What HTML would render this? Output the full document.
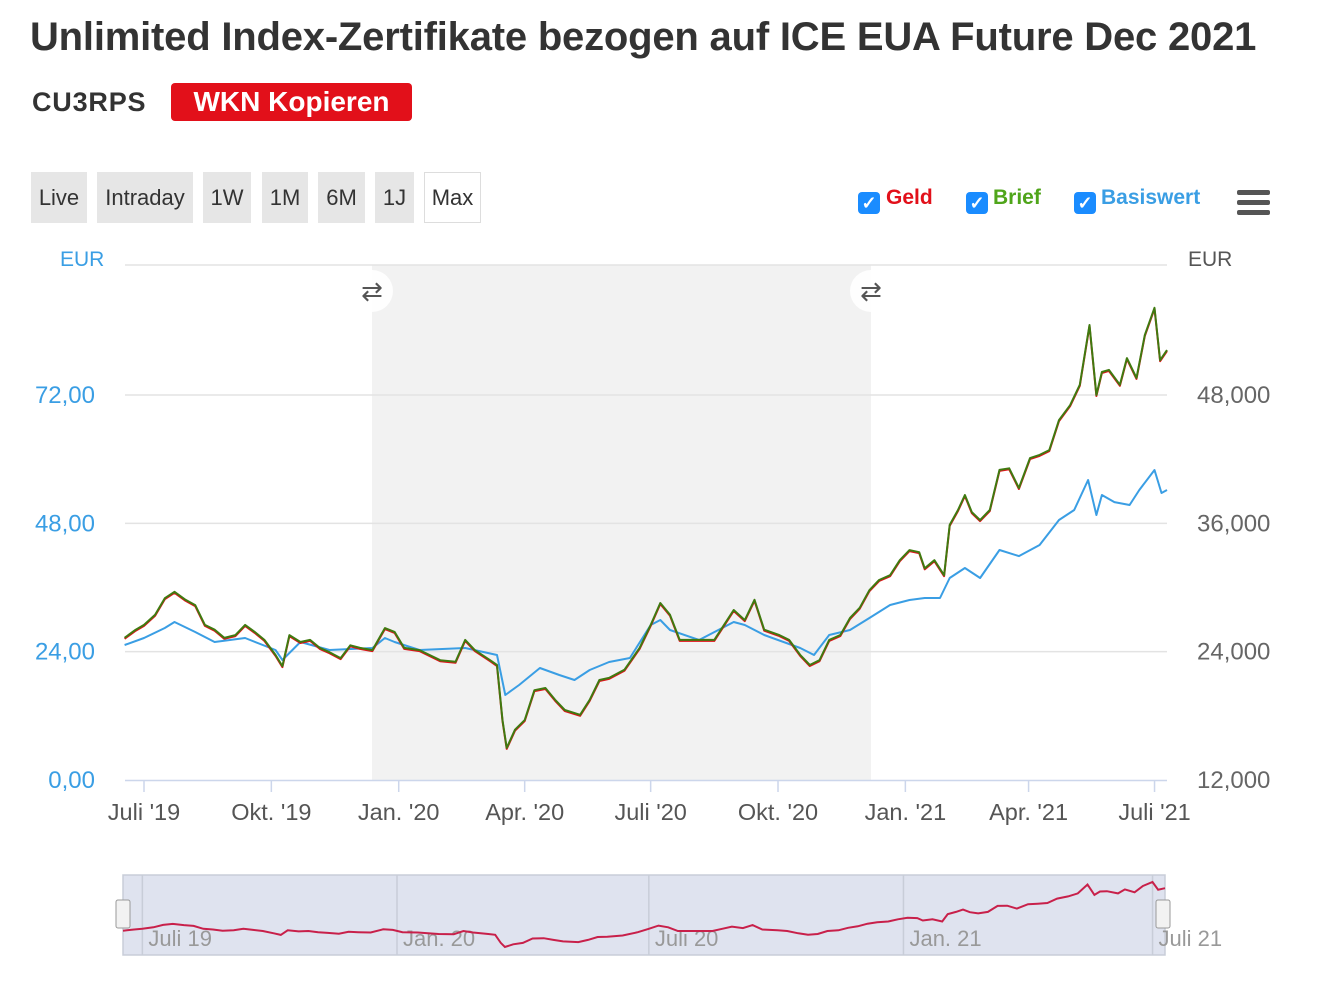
<!DOCTYPE html>
<html><head><meta charset="utf-8"><style>
body{margin:0;width:1336px;height:1002px;background:#fff;font-family:"Liberation Sans",sans-serif;overflow:hidden;position:relative}
.abs{position:absolute}
.btn{position:absolute;top:172px;height:51px;background:#e6e6e6;font-size:22px;color:#333;line-height:51px;text-align:center}
.cb{position:absolute;top:192px;width:22px;height:22px;background:#1a8cff;border-radius:4px;color:#fff;font-size:18px;line-height:22px;text-align:center;font-weight:bold}
.lg{position:absolute;top:186px;font-size:21px;font-weight:bold}
</style></head><body>
<div class="abs" style="left:30px;top:15px;font-size:40px;font-weight:bold;color:#333;letter-spacing:-0.2px">Unlimited Index-Zertifikate bezogen auf ICE EUA Future Dec 2021</div>
<div class="abs" style="left:32px;top:87px;font-size:27px;font-weight:bold;color:#333;letter-spacing:0.8px">CU3RPS</div>
<div class="abs" style="left:171px;top:83px;width:241px;height:38px;background:#e2101a;border-radius:4px;color:#fff;font-size:28px;font-weight:bold;text-align:center;line-height:38px">WKN Kopieren</div>
<div class="btn" style="left:31px;width:56px">Live</div>
<div class="btn" style="left:97px;width:96px">Intraday</div>
<div class="btn" style="left:203px;width:48px">1W</div>
<div class="btn" style="left:262px;width:46px">1M</div>
<div class="btn" style="left:318px;width:47px">6M</div>
<div class="btn" style="left:375px;width:39px">1J</div>
<div class="btn" style="left:424px;width:55px;height:49px;background:#fff;border:1px solid #ddd;line-height:49px">Max</div>
<div class="cb" style="left:858px">✓</div>
<div class="lg" style="left:886px;color:#e2101a">Geld</div>
<div class="cb" style="left:966px">✓</div>
<div class="lg" style="left:993px;color:#4fa51a">Brief</div>
<div class="cb" style="left:1074px">✓</div>
<div class="lg" style="left:1101px;color:#3a9ee4">Basiswert</div>
<div class="abs" style="left:1237px;top:190px;width:33px;height:26px">
<div style="height:5px;background:#555;border-radius:2px;margin-bottom:5px"></div><div style="height:5px;background:#555;border-radius:2px;margin-bottom:5px"></div><div style="height:5px;background:#555;border-radius:2px"></div></div>
<svg id="chart" class="abs" style="left:0;top:0" width="1336" height="1002"></svg>
<script>
const gDays=[-14,-6,0,8,15,22,30,37,44,51,58,66,73,80,87,95,100,105,113,120,127,134,142,149,156,165,174,181,188,199,214,225,232,239,250,255,259,262,268,275,282,290,297,304,315,322,329,336,347,358,366,373,380,387,394,401,412,419,426,434,441,448,459,466,474,481,488,495,503,510,517,524,531,539,546,553,560,564,571,578,582,588,593,598,604,611,618,625,632,640,647,654,661,669,676,683,688,692,697,705,710,717,723,730,734,739];
const gVals=[26.6,28.1,29.0,30.9,34.0,35.2,33.7,32.7,29.0,28.1,26.6,27.1,29.0,27.7,26.2,23.4,21.3,27.1,25.8,26.2,24.7,23.9,22.8,25.2,24.7,24.3,28.4,27.7,24.7,24.3,22.4,22.1,26.2,24.3,22.4,21.5,11.2,6.0,9.4,11.2,16.8,17.2,15.0,13.1,12.2,15.0,18.7,19.1,20.6,24.7,29.0,33.1,30.9,26.2,26.2,26.2,26.2,29.0,31.8,29.9,33.7,28.1,27.1,26.2,23.4,21.5,22.4,26.2,27.1,30.3,32.2,35.5,37.4,38.3,41.1,43.0,42.6,39.6,41.1,38.3,47.7,50.5,53.3,50.1,48.6,50.5,58.0,58.3,54.6,60.2,60.8,61.7,67.3,70.1,73.9,85.1,72.0,76.3,76.7,73.9,78.9,75.2,83.2,88.3,78.5,80.4];
const bDays=[-14,0,15,22,37,51,73,95,100,113,134,165,174,181,199,232,255,261,271,286,300,311,322,336,351,366,373,380,401,426,434,448,474,484,495,510,524,539,553,564,575,582,593,604,618,632,647,661,672,682,688,692,701,712,719,730,735,739];
const bVals=[24620,25280,26210,26770,25840,24900,25280,24160,23220,24900,24160,24340,25280,24900,24160,24340,23690,19950,20880,22470,21820,21350,22290,23030,23410,26490,26960,26030,25090,26770,26490,25560,24340,23690,25560,26030,27150,28360,28830,29020,29020,30890,31820,30890,33510,32940,33970,36310,37250,40050,36780,38650,37990,37710,39120,40990,38840,39120];
const leftTicks=["0,00","24,00","48,00","72,00"];
const leftTickVals=[0,24,48,72];
const rightTicks=["12,000","24,000","36,000","48,000"];
const rightTickVals=[12000,24000,36000,48000];
const xLabels=["Juli '19","Okt. '19","Jan. '20","Apr. '20","Juli '20","Okt. '20","Jan. '21","Apr. '21","Juli '21"];
const xLabelDays=[0,92,184,275,366,458,550,639,730];
const navLabels=["Juli 19","Jan. 20","Juli 20","Jan. 21","Juli 21"];
const navLabelDays=[0,184,366,550,730];

const NS="http://www.w3.org/2000/svg";
const svg=document.getElementById('chart');
const X=d=>144+d*1.3843;
const YL=v=>780-(v/72)*385;
const YR=v=>780-((v-12000)/36000)*385;
function el(t,a,p){const e=document.createElementNS(NS,t);for(const k in a)e.setAttribute(k,a[k]);(p||svg).appendChild(e);return e;}
function tx(s,a){const e=el('text',a);e.textContent=s;return e;}

const band=el('rect',{x:372,y:265,width:499,height:515,fill:'#f2f2f2'});


[265].concat(leftTickVals.slice(1).map(YL)).forEach(y=>{
 const g=el('line',{x1:125,x2:1167,y1:y,y2:y,stroke:'#e3e3e3','stroke-width':1.5});
 
 
});
const ax=el('line',{x1:125,x2:1167,y1:780.5,y2:780.5,stroke:'#ccd6eb','stroke-width':1.5});


leftTickVals.forEach((v,i)=>{
 const t=tx(leftTicks[i],{x:95,y:YL(v)+8,'text-anchor':'end','font-size':24,fill:'#3a9ee4'});
 
 
});
rightTickVals.forEach((v,i)=>{
 const t=tx(rightTicks[i],{x:1197,y:YR(v)+8,'font-size':24,fill:'#666'});
 
 
});
const lu=tx('EUR',{x:60,y:266,'font-size':21,fill:'#3a9ee4'});


const ru=tx('EUR',{x:1188,y:266,'font-size':21,fill:'#555'});


xLabelDays.forEach((d,i)=>{
 const tk=el('line',{x1:X(d),x2:X(d),y1:781,y2:792,stroke:'#ccd6eb','stroke-width':1.5});
 
 
 const t=tx(xLabels[i],{x:X(d),y:820,'text-anchor':'middle','font-size':23.5,fill:'#555'});
 
 
});
function pts(ds,vs,fx,fy,dy){return ds.map((d,i)=>fx(d).toFixed(1)+','+(fy(vs[i])+(dy||0)).toFixed(1)).join(' ');}
const bl=el('polyline',{points:pts(bDays,bVals,X,YR),fill:'none',stroke:'#3a9ee4','stroke-width':2,'stroke-linejoin':'round'});


const rl=el('polyline',{points:pts(gDays,gVals,X,YL,1),fill:'none',stroke:'#e2101a','stroke-width':2,'stroke-linejoin':'round'});


const gl=el('polyline',{points:pts(gDays,gVals,X,YL),fill:'none',stroke:'#3f7a10','stroke-width':2,'stroke-linejoin':'round'});


[372,871].forEach(x=>{
 const c=el('circle',{cx:x,cy:291,r:21,fill:'#fff',opacity:0.9});
 
 
 const t=tx('⇄',{x:x,y:300,'text-anchor':'middle','font-size':26,fill:'#555'});
 
 
});
const nav=el('rect',{x:123,y:875,width:1042,height:80,fill:'#dfe3ef',stroke:'#c8cdd8','stroke-width':1.5});


const NX=d=>123+(d+14)*(1042/753);
const NY=v=>947-(v-6)/(88.3-6)*65;
navLabelDays.forEach((d,i)=>{
 const l=el('line',{x1:NX(d),x2:NX(d),y1:875,y2:955,stroke:'#c8cdd8','stroke-width':1.5});
 
 
 const t=tx(navLabels[i],{x:NX(d)+6,y:946,'font-size':22,fill:'#999'});
 
 
});
const nl=el('polyline',{points:pts(gDays,gVals,NX,NY),fill:'none',stroke:'#c8204a','stroke-width':2});


[123,1163].forEach(x=>{
 const h=el('rect',{x:x-7,y:900,width:14,height:28,fill:'#f2f2f2',stroke:'#999',rx:2});
 
 
});
</script>
</body></html>
